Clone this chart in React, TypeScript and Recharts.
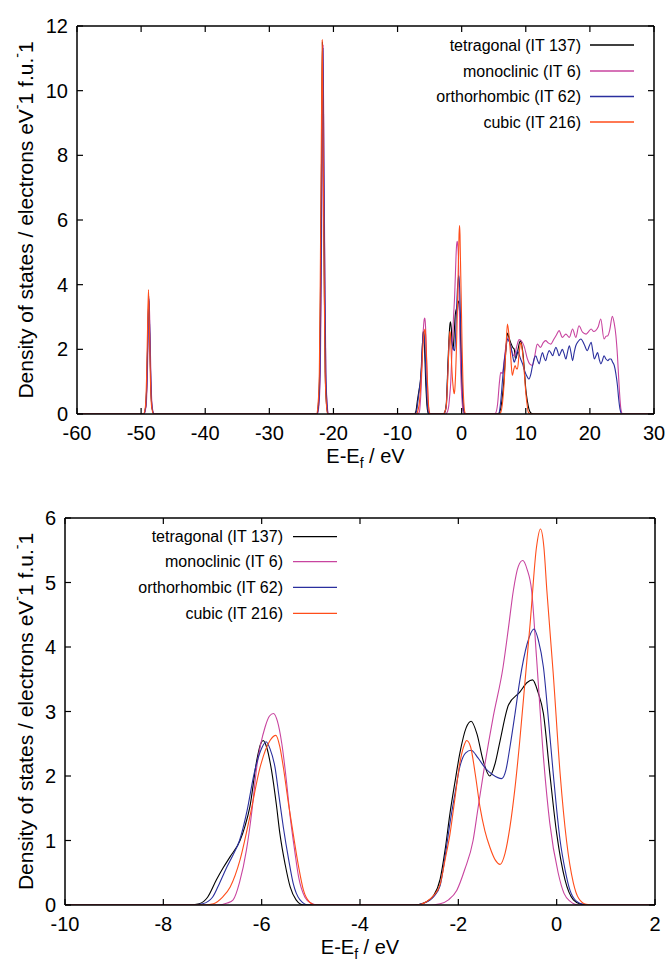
import { Legend, Line, LineChart, XAxis, YAxis } from 'recharts';

const FONT = '"Liberation Sans", Arial, Helvetica, sans-serif';

const seriesNames = ['tetragonal (IT 137)', 'monoclinic (IT 6)', 'orthorhombic (IT 62)', 'cubic (IT 216)'];
const seriesColors = ['#000000', '#c8449f', '#2a2f9e', '#ff4d1a'];

const wideXTicks = [-60, -50, -40, -30, -20, -10, 0, 10, 20, 30];
const wideYTicks = [0, 2, 4, 6, 8, 10, 12];
const zoomXTicks = [-10, -8, -6, -4, -2, 0, 2];
const zoomYTicks = [0, 1, 2, 3, 4, 5, 6];

// semi-core peaks (only in the wide plot)
const tetragonalCore = [
  [-49.6, 0], [-49.3, 0.2], [-49.1, 1.0], [-48.95, 2.4], [-48.8, 3.5], [-48.65, 2.4], [-48.5, 1.0], [-48.3, 0.2], [-48.0, 0],
  [-22.6, 0], [-22.35, 0.3], [-22.15, 1.3], [-22.0, 4.2], [-21.85, 8.0], [-21.72, 11.5], [-21.58, 8.0], [-21.43, 4.2], [-21.28, 1.3], [-21.08, 0.3], [-20.85, 0],
];
const monoclinicCore = [
  [-49.55, 0], [-49.25, 0.2], [-49.05, 1.0], [-48.9, 2.4], [-48.75, 3.55], [-48.6, 2.4], [-48.45, 1.0], [-48.25, 0.2], [-47.95, 0],
  [-22.5, 0], [-22.25, 0.3], [-22.05, 1.3], [-21.9, 4.2], [-21.75, 7.9], [-21.62, 11.4], [-21.48, 7.9], [-21.33, 4.2], [-21.18, 1.3], [-20.98, 0.3], [-20.75, 0],
];
const orthorhombicCore = [
  [-49.6, 0], [-49.3, 0.2], [-49.1, 1.05], [-48.95, 2.5], [-48.8, 3.65], [-48.65, 2.5], [-48.5, 1.05], [-48.3, 0.2], [-48.0, 0],
  [-22.55, 0], [-22.3, 0.3], [-22.1, 1.3], [-21.95, 4.1], [-21.8, 7.8], [-21.65, 11.3], [-21.5, 7.8], [-21.35, 4.1], [-21.2, 1.3], [-21.0, 0.3], [-20.8, 0],
];
const cubicCore = [
  [-49.65, 0], [-49.35, 0.2], [-49.15, 1.1], [-49.0, 2.6], [-48.85, 3.85], [-48.7, 2.6], [-48.55, 1.1], [-48.35, 0.2], [-48.05, 0],
  [-22.65, 0], [-22.4, 0.3], [-22.2, 1.3], [-22.05, 4.3], [-21.9, 8.1], [-21.75, 11.57], [-21.6, 8.1], [-21.45, 4.3], [-21.3, 1.3], [-21.1, 0.3], [-20.9, 0],
];

// valence band (both plots)
const tetragonalValence = [
  [-7.5, 0], [-7.27, 0.02], [-7.1, 0.12], [-6.92, 0.39], [-6.78, 0.58], [-6.64, 0.75], [-6.44, 1.0], [-6.34, 1.22], [-6.24, 1.52],
  [-6.1, 2.24], [-6.02, 2.5], [-5.97, 2.55], [-5.9, 2.45], [-5.8, 2.09], [-5.7, 1.55], [-5.63, 1.11], [-5.52, 0.62], [-5.42, 0.28],
  [-5.3, 0.08], [-5.15, 0],
  [-2.9, 0], [-2.7, 0.03], [-2.5, 0.15], [-2.37, 0.4], [-2.27, 0.85], [-2.17, 1.42], [-2.07, 1.9], [-1.97, 2.35], [-1.84, 2.75],
  [-1.74, 2.85], [-1.62, 2.65], [-1.5, 2.25], [-1.36, 2.0], [-1.25, 2.2], [-1.15, 2.55], [-0.98, 3.1], [-0.75, 3.3], [-0.6, 3.45],
  [-0.49, 3.49], [-0.38, 3.3], [-0.27, 2.97], [-0.14, 2.04], [0.0, 1.11], [0.17, 0.39], [0.34, 0.08], [0.5, 0.01], [0.65, 0],
];
const monoclinicValence = [
  [-6.9, 0], [-6.7, 0.03], [-6.58, 0.08], [-6.45, 0.35], [-6.31, 0.85], [-6.2, 1.45], [-6.1, 2.14], [-5.93, 2.76], [-5.84, 2.93],
  [-5.76, 2.97], [-5.68, 2.85], [-5.59, 2.5], [-5.5, 1.95], [-5.42, 1.37], [-5.33, 0.85], [-5.25, 0.44], [-5.12, 0.12], [-5.0, 0.03],
  [-4.85, 0],
  [-2.6, 0], [-2.37, 0.02], [-2.2, 0.08], [-2.03, 0.23], [-1.87, 0.55], [-1.7, 1.0], [-1.6, 1.5], [-1.49, 2.04], [-1.29, 2.92],
  [-1.09, 3.69], [-0.98, 4.3], [-0.88, 4.88], [-0.78, 5.25], [-0.69, 5.34], [-0.6, 5.2], [-0.51, 4.88], [-0.41, 3.84], [-0.27, 2.3],
  [-0.14, 1.27], [0.03, 0.5], [0.15, 0.18], [0.27, 0.06], [0.45, 0],
];
const orthorhombicValence = [
  [-7.45, 0], [-7.2, 0.02], [-7.0, 0.12], [-6.85, 0.35], [-6.7, 0.6], [-6.58, 0.78], [-6.45, 1.0], [-6.3, 1.45], [-6.15, 2.05],
  [-6.0, 2.43], [-5.91, 2.53], [-5.83, 2.42], [-5.73, 2.14], [-5.65, 1.7], [-5.56, 1.21], [-5.45, 0.7], [-5.36, 0.34], [-5.22, 0.08],
  [-5.05, 0],
  [-2.9, 0], [-2.7, 0.03], [-2.5, 0.13], [-2.37, 0.3], [-2.27, 0.75], [-2.17, 1.27], [-2.07, 1.72], [-1.97, 2.14], [-1.85, 2.36],
  [-1.74, 2.4], [-1.6, 2.28], [-1.45, 2.12], [-1.3, 2.02], [-1.12, 1.96], [-1.03, 2.1], [-0.95, 2.45], [-0.85, 2.95], [-0.75, 3.48],
  [-0.6, 4.05], [-0.46, 4.28], [-0.37, 4.1], [-0.27, 3.69], [-0.17, 2.9], [-0.07, 2.04], [0.07, 1.0], [0.17, 0.55], [0.27, 0.23],
  [0.4, 0.06], [0.55, 0.01], [0.7, 0],
];
const cubicValence = [
  [-7.2, 0], [-6.98, 0.02], [-6.8, 0.12], [-6.64, 0.28], [-6.44, 0.7], [-6.24, 1.37], [-6.03, 2.14], [-5.83, 2.55], [-5.71, 2.63],
  [-5.63, 2.45], [-5.56, 2.14], [-5.46, 1.6], [-5.36, 1.11], [-5.25, 0.6], [-5.15, 0.23], [-5.03, 0.05], [-4.9, 0],
  [-2.85, 0], [-2.65, 0.05], [-2.5, 0.15], [-2.37, 0.32], [-2.27, 0.7], [-2.17, 1.1], [-2.07, 1.65], [-1.97, 2.2], [-1.88, 2.48],
  [-1.83, 2.55], [-1.75, 2.45], [-1.65, 2.0], [-1.56, 1.52], [-1.46, 1.15], [-1.36, 0.9], [-1.25, 0.7], [-1.15, 0.63], [-1.05, 0.8],
  [-0.95, 1.21], [-0.85, 1.8], [-0.75, 2.55], [-0.64, 3.5], [-0.54, 4.36], [-0.41, 5.55], [-0.33, 5.83], [-0.26, 5.55], [-0.2, 4.88],
  [-0.07, 3.59], [0.07, 2.04], [0.2, 1.0], [0.34, 0.34], [0.45, 0.1], [0.6, 0.01], [0.75, 0],
];

// conduction band (only in the wide plot)
const tetragonalConduction = [
  [5.5, 0], [5.8, 0.02], [6.2, 0.3], [6.6, 1.08], [6.9, 2.0], [7.14, 2.5], [7.4, 2.35], [7.66, 2.2], [8.0, 2.05], [8.2, 2.0],
  [8.4, 1.7], [8.7, 1.9], [9.0, 2.2], [9.2, 2.27], [9.4, 2.1], [9.6, 1.8], [9.8, 1.3], [10.0, 0.77], [10.25, 0.4], [10.5, 0.15],
  [10.8, 0.03], [11.2, 0],
];
const monoclinicConduction = [
  [5.0, 0], [5.3, 0.03], [5.6, 0.3], [5.9, 1.0], [6.1, 1.29], [6.35, 1.25], [6.6, 1.6], [6.9, 2.1], [7.2, 2.35], [7.5, 2.2],
  [7.8, 1.95], [8.2, 1.8], [8.6, 2.1], [8.96, 2.3], [9.35, 2.25], [9.74, 2.1], [10.26, 1.7], [10.6, 1.55], [11.04, 1.5], [11.4, 1.8],
  [11.8, 2.16], [12.3, 2.06], [12.7, 2.2], [13.1, 2.27], [13.5, 2.2], [13.9, 2.16], [14.4, 2.32], [14.8, 2.45], [15.2, 2.58],
  [15.7, 2.37], [16.25, 2.47], [16.8, 2.37], [17.3, 2.63], [17.8, 2.37], [18.3, 2.73], [18.85, 2.53], [19.4, 2.47], [19.8, 2.55],
  [20.2, 2.63], [20.6, 2.55], [20.9, 2.58], [21.3, 2.7], [21.7, 2.94], [22.2, 2.32], [22.5, 2.4], [22.8, 2.42], [23.1, 2.6],
  [23.5, 3.02], [23.8, 2.8], [24.06, 2.42], [24.3, 1.8], [24.5, 1.08], [24.7, 0.45], [24.84, 0.15], [25.1, 0],
];
const orthorhombicConduction = [
  [5.5, 0], [5.8, 0.02], [6.1, 0.4], [6.35, 1.0], [6.6, 1.55], [6.9, 2.0], [7.14, 2.32], [7.4, 2.25], [7.66, 2.1], [7.95, 1.8],
  [8.2, 1.6], [8.45, 1.75], [8.7, 1.96], [8.95, 1.85], [9.2, 1.7], [9.5, 1.55], [9.74, 1.39], [10.1, 1.2], [10.5, 1.08], [10.75, 1.2],
  [11.0, 1.44], [11.3, 1.7], [11.56, 1.8], [11.85, 1.65], [12.1, 1.55], [12.35, 1.75], [12.6, 1.9], [12.85, 1.75], [13.1, 1.65],
  [13.4, 1.85], [13.65, 1.96], [13.9, 1.9], [14.2, 1.8], [14.45, 1.95], [14.7, 2.06], [14.95, 1.95], [15.2, 1.8], [15.45, 1.9],
  [15.7, 2.0], [16.0, 1.85], [16.25, 1.7], [16.5, 1.9], [16.8, 2.11], [17.05, 1.9], [17.3, 1.65], [17.55, 1.9], [17.8, 2.11],
  [18.2, 2.25], [18.6, 2.32], [19.1, 2.16], [19.6, 1.96], [19.9, 2.1], [20.2, 2.22], [20.45, 1.95], [20.7, 1.7], [20.95, 1.8],
  [21.2, 1.9], [21.45, 1.7], [21.7, 1.55], [21.95, 1.65], [22.2, 1.8], [22.5, 1.7], [22.8, 1.65], [23.05, 1.7], [23.3, 1.7],
  [23.55, 1.6], [23.8, 1.5], [24.05, 1.25], [24.3, 0.88], [24.5, 0.45], [24.7, 0.15], [24.85, 0.04], [25.0, 0],
];
const cubicConduction = [
  [5.8, 0], [6.1, 0.05], [6.4, 0.4], [6.6, 0.88], [6.9, 2.0], [7.14, 2.78], [7.4, 2.4], [7.66, 1.75], [7.9, 1.19], [8.1, 1.35],
  [8.33, 1.5], [8.5, 1.42], [8.7, 1.39], [8.95, 1.85], [9.2, 2.2], [9.4, 2.05], [9.6, 1.7], [9.8, 1.2], [10.0, 0.67], [10.2, 0.3],
  [10.4, 0.05], [10.8, 0],
];

const toPoints = (pairs) => pairs.map(([x, y]) => ({ x, y }));

const wideSeries = [
  toPoints([[-60, 0], ...tetragonalCore, ...tetragonalValence, ...tetragonalConduction, [30, 0]]),
  toPoints([[-60, 0], ...monoclinicCore, ...monoclinicValence, ...monoclinicConduction, [30, 0]]),
  toPoints([[-60, 0], ...orthorhombicCore, ...orthorhombicValence, ...orthorhombicConduction, [30, 0]]),
  toPoints([[-60, 0], ...cubicCore, ...cubicValence, ...cubicConduction, [30, 0]]),
];
const zoomSeries = [
  toPoints([[-10, 0], ...tetragonalValence, [2, 0]]),
  toPoints([[-10, 0], ...monoclinicValence, [2, 0]]),
  toPoints([[-10, 0], ...orthorhombicValence, [2, 0]]),
  toPoints([[-10, 0], ...cubicValence, [2, 0]]),
];

const TICK = 6;
const frame = { stroke: '#000', strokeWidth: 1.5 };

const BottomTick = ({ x, y, payload }) => (
  <g>
    <line x1={x} x2={x} y1={y} y2={y - TICK} stroke="#000" strokeWidth={1.2} />
    <text x={x} y={y + 26} textAnchor="middle" fontSize={20} fontFamily={FONT} fill="#000">{payload.value}</text>
  </g>
);
const TopTick = ({ x, y }) => <line x1={x} x2={x} y1={y} y2={y + TICK} stroke="#000" strokeWidth={1.2} />;
const LeftTick = ({ x, y, payload }) => (
  <g>
    <line x1={x} x2={x + TICK} y1={y} y2={y} stroke="#000" strokeWidth={1.2} />
    <text x={x - 9} y={y + 7} textAnchor="end" fontSize={20} fontFamily={FONT} fill="#000">{payload.value}</text>
  </g>
);
const RightTick = ({ x, y }) => <line x1={x} x2={x - TICK} y1={y} y2={y} stroke="#000" strokeWidth={1.2} />;

const XTitle = ({ viewBox }) => {
  const cx = viewBox.x + viewBox.width / 2;
  return (
    <text x={cx} y={viewBox.y + 49} textAnchor="middle" fontSize={20} fontFamily={FONT} fill="#000">
      E-E<tspan dy={5} fontSize={14}>f</tspan><tspan dy={-5}> / eV</tspan>
    </text>
  );
};

const YTitle = ({ viewBox }) => {
  const cy = viewBox.y + viewBox.height / 2;
  return (
    <text x={25} y={cy} transform={`rotate(-90 25 ${cy})`} textAnchor="middle" dominantBaseline="central"
      fontSize={21} fontFamily={FONT} fill="#000">
      Density of states / electrons eV<tspan dy={-8} fontSize={14}>-</tspan><tspan dy={8}>1 f.u.</tspan>
      <tspan dy={-8} fontSize={14}>-</tspan><tspan dy={8}>1</tspan>
    </text>
  );
};

const makeLegend = (rows, textRight, lineFrom, lineTo) => () => (
  <svg width={667} height={170} style={{ display: 'block' }}>
    {seriesNames.map((name, i) => (
      <g key={name}>
        <text x={textRight} y={rows[i] + 5.5} textAnchor="end" fontSize={16} fontFamily={FONT} fill="#000">{name}</text>
        <line x1={lineFrom} x2={lineTo} y1={rows[i]} y2={rows[i]} stroke={seriesColors[i]} strokeWidth={1.3} />
      </g>
    ))}
  </svg>
);

// axes get a 1px thickness (zero-sized axes are not drawn), margins are reduced by that pixel
const DosPanel = ({ series, xDomain, xTicks, yDomain, yTicks, margin, legend }) => (
  <LineChart width={667} height={482} margin={margin}>
    <XAxis xAxisId="b" type="number" dataKey="x" domain={xDomain} ticks={xTicks} interval={0} allowDataOverflow
      height={1} tickSize={0} tickMargin={0} tickLine={false} axisLine={frame} tick={BottomTick} label={<XTitle />} />
    <XAxis xAxisId="t" orientation="top" type="number" dataKey="x" domain={xDomain} ticks={xTicks} interval={0}
      allowDataOverflow height={1} tickSize={0} tickMargin={0} tickLine={false} axisLine={frame} tick={TopTick} />
    <YAxis yAxisId="l" type="number" domain={yDomain} ticks={yTicks} interval={0} allowDataOverflow
      width={1} tickSize={0} tickMargin={0} tickLine={false} axisLine={frame} tick={LeftTick} label={<YTitle />} />
    <YAxis yAxisId="r" orientation="right" type="number" domain={yDomain} ticks={yTicks} interval={0} allowDataOverflow
      width={1} tickSize={0} tickMargin={0} tickLine={false} axisLine={frame} tick={RightTick} />
    {series.map((pts, i) => (
      <Line key={seriesNames[i]} name={seriesNames[i]} data={pts} dataKey="y" xAxisId="b" yAxisId="l"
        type="monotone" stroke={seriesColors[i]} strokeWidth={1.1} dot={false} activeDot={false}
        isAnimationActive={false} />
    ))}
    <Legend verticalAlign="middle" layout="horizontal" content={legend}
      wrapperStyle={{ position: 'absolute', left: 0, top: 0, width: 667, height: 170 }} />
  </LineChart>
);

export default function App() {
  return (
    <div style={{ position: 'absolute', left: 0, top: 0, width: 667, height: 964, background: '#fff' }}>
      <div style={{ position: 'absolute', left: 0, top: 0 }}>
        <DosPanel series={wideSeries} xDomain={[-60, 30]} xTicks={wideXTicks} yDomain={[0, 12]} yTicks={wideYTicks}
          margin={{ top: 25, right: 12, bottom: 67, left: 76 }}
          legend={makeLegend([45, 71, 96.5, 122], 581, 590, 634)} />
      </div>
      <div style={{ position: 'absolute', left: 0, top: 482 }}>
        <DosPanel series={zoomSeries} xDomain={[-10, 2]} xTicks={zoomXTicks} yDomain={[0, 6]} yTicks={zoomYTicks}
          margin={{ top: 35, right: 11, bottom: 58, left: 64 }}
          legend={makeLegend([54.7, 79.7, 105.3, 131.3], 283, 293, 337)} />
      </div>
    </div>
  );
}
